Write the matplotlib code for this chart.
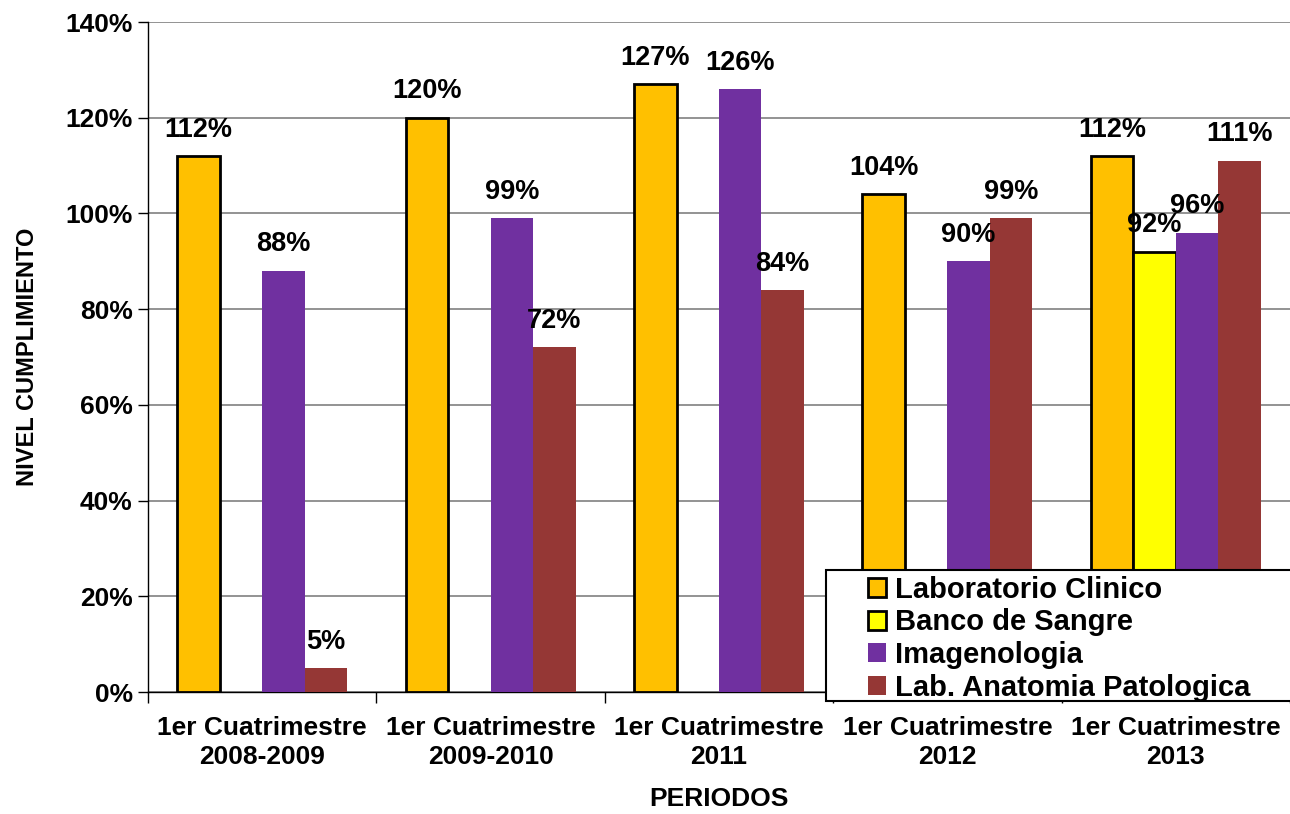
import numpy as np
import matplotlib
matplotlib.use('Agg')
import matplotlib.pyplot as plt
from matplotlib.patches import Rectangle

periodos = ['1er Cuatrimestre\n2008-2009', '1er Cuatrimestre\n2009-2010',
            '1er Cuatrimestre\n2011', '1er Cuatrimestre\n2012',
            '1er Cuatrimestre\n2013']
series = ['Laboratorio Clinico', 'Banco de Sangre', 'Imagenologia',
          'Lab. Anatomia Patologica']
lab_clinico = [112, 120, 127, 104, 112]
banco_sangre = [np.nan, np.nan, np.nan, np.nan, 92]
imagenologia = [88, 99, 126, 90, 96]
anatomia = [5, 72, 84, 99, 111]
colores = ['#FFC000', '#FFFF00', '#7030A0', '#953735']
bordes = ['black', 'black', 'none', 'none']

plt.rcParams['font.family'] = ['Liberation Sans', 'DejaVu Sans']
plt.rcParams['font.weight'] = 'bold'

fig = plt.figure(figsize=(12.9, 8.14), dpi=100)
ax = fig.add_axes([148 / 1290, 1 - 692 / 814, 1 - 148 / 1290, (692 - 22) / 814])

x = np.arange(len(periodos))
ancho = 0.186
datos = [lab_clinico, banco_sangre, imagenologia, anatomia]
for i, valores in enumerate(datos):
    pos = x - 1.5 * ancho + i * ancho
    ax.bar(pos, valores, ancho, color=colores[i], edgecolor=bordes[i],
           linewidth=2 if bordes[i] != 'none' else 0, label=series[i], zorder=3)
    for p, v in zip(pos, valores):
        if not np.isnan(v):
            ax.text(p, v + 2.8, '%d%%' % v, ha='center', va='bottom',
                    fontsize=19.5, fontweight='bold', zorder=4)

ax.set_xlim(-0.5, len(periodos) - 0.5)
ax.set_ylim(0, 140)
ax.set_yticks(range(0, 141, 20))
ax.set_yticklabels(['%d%%' % t for t in range(0, 141, 20)], fontsize=19)
ax.set_xticks(x)
ax.set_xticklabels(periodos, fontsize=19, linespacing=1.3)
ax.set_xticks(np.arange(-0.5, len(periodos)), minor=True)
ax.tick_params(axis='x', which='major', length=0, pad=17)
ax.tick_params(axis='x', which='minor', length=8, direction='out', width=1)
ax.tick_params(axis='y', length=7, width=1, direction='out', pad=4)
ax.grid(axis='y', color='#808080', linewidth=1.2, zorder=0)
for s in ['top', 'right']:
    ax.spines[s].set_visible(False)
ax.spines['left'].set_linewidth(1)
ax.spines['bottom'].set_linewidth(1)

ax.set_ylabel('NIVEL CUMPLIMIENTO', fontsize=17, fontweight='bold', labelpad=19)
ax.set_xlabel('PERIODOS', fontsize=19, fontweight='bold', labelpad=13)

# caja de la leyenda
caja = Rectangle((826 / 1290, 1 - 701 / 814), (1292 - 826) / 1290, (701 - 570) / 814,
                 transform=fig.transFigure, facecolor='white', edgecolor='black',
                 linewidth=1.5, zorder=5)
fig.add_artist(caja)
handles, labels = ax.get_legend_handles_labels()
leg = fig.legend(handles, labels, loc='upper left',
                 bbox_to_anchor=(862 / 1290, 1 - 570 / 814),
                 fontsize=21, frameon=False,
                 handlelength=0.62, handleheight=0.62, handletextpad=0.3,
                 labelspacing=0.16, borderpad=0.2, borderaxespad=0)
leg.set_zorder(6)

fig.savefig('out.png', dpi=100)
